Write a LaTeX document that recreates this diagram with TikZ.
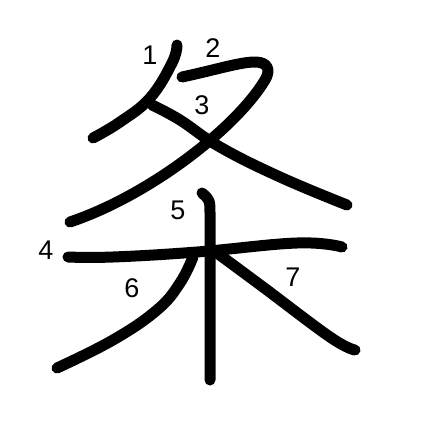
\documentclass[tikz,border=0pt]{standalone}
\usepackage{fontspec}
\setmainfont{Liberation Sans}
\usepackage{tikz}
\usetikzlibrary{positioning}

\begin{document}
\begin{tikzpicture}[x=1pt, y=-1pt,
    stroke/.style={line width=11pt, line cap=round, line join=round},
    num/.style={font=\fontsize{27}{30}\selectfont, inner sep=0pt}]
  \useasboundingbox[fill=white] (0,0) rectangle (447,447);

  % Stroke 1: left-falling
  \draw[stroke] plot[smooth, tension=0.7] coordinates {(177,45) (172,63) (150,98) (120,122) (93,138)};

  % Stroke 2: horizontal then long falling
  \draw[stroke] (182,77) .. controls (215,70) and (240,62) .. (255,62)
    .. controls (268,62) and (271,70) .. (265,80)
    .. controls (236,128) and (150,195) .. (70,222);

  % Stroke 3: dot-like falling right
  \draw[stroke] plot[smooth, tension=0.7] coordinates {(152,105) (180,120) (220,147) (280,177) (347,205)};

  % Stroke 4: horizontal
  \draw[stroke] plot[smooth, tension=0.7] coordinates {(68,257) (113,257) (197,252) (297,243) (342,247)};

  % Stroke 5: vertical
  \draw[stroke] (202,193) .. controls (210,200) .. (210,215) -- (210,380);

  % Stroke 6: left-falling
  \draw[stroke] plot[smooth, tension=0.7] coordinates {(193,257) (180,283) (157,310) (113,340) (57,368)};

  % Stroke 7: right-falling
  \draw[stroke] plot[smooth, tension=0.7] coordinates {(217,253) (263,287) (330,337) (355,350)};

  % Stroke numbers
  \node[num] (n1) at (150,55) {1};
  \node[num] (n2) at (213,48) {2};
  \node[num] (n3) at (202,105) {3};
  \node[num] (n4) at (46,250) {4};
  \node[num] (n5) at (178,210) {5};
  \node[num] (n6) at (132,288) {6};
  \node[num] (n7) at (293,277) {7};
\end{tikzpicture}
\end{document}
